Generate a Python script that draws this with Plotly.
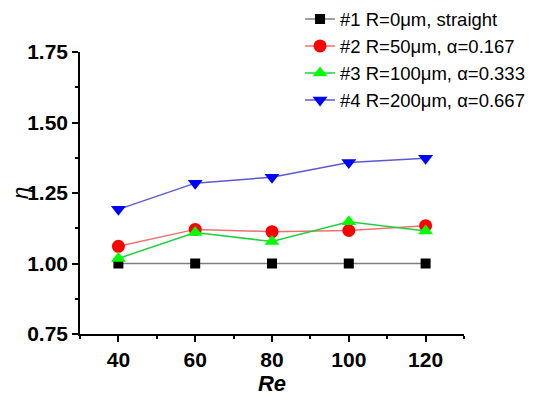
import plotly.graph_objects as go

re_values = [40, 60, 80, 100, 120]
eta_straight = [1.00, 1.00, 1.00, 1.00, 1.00]
eta_r50 = [1.061, 1.121, 1.113, 1.117, 1.134]
eta_r100 = [1.018, 1.110, 1.078, 1.148, 1.115]
eta_r200 = [1.192, 1.285, 1.306, 1.358, 1.373]

series_names = [
    "#1 R=0μm, straight",
    "#2 R=50μm, α=0.167",
    "#3 R=100μm, α=0.333",
    "#4 R=200μm, α=0.667",
]

styles = [
    dict(line="#808080", marker="#000000", symbol="square", size=10),
    dict(line="#f07070", marker="#ff0000", symbol="circle", size=13),
    dict(line="#20d040", marker="#00ff00", symbol="triangle-up", size=13),
    dict(line="#5a5ad0", marker="#0000ff", symbol="triangle-down", size=13),
]

fig = go.Figure()
for name, ys, st in zip(series_names, [eta_straight, eta_r50, eta_r100, eta_r200], styles):
    fig.add_trace(go.Scatter(
        x=re_values, y=ys, name=name, mode="lines+markers",
        line=dict(color=st["line"], width=1.5),
        marker=dict(color=st["marker"], symbol=st["symbol"], size=st["size"],
                    line=dict(width=0)),
    ))

font_family = "Liberation Sans, Arial, sans-serif"

# page body adds an 8px offset, so the figure is sized to fit the window
fig.update_layout(
    width=542, height=390,
    margin=dict(l=72, r=86, t=44, b=64, autoexpand=False),
    plot_bgcolor="white", paper_bgcolor="white",
    showlegend=True,
    legend=dict(
        x=0.573, y=1.183, xanchor="left", yanchor="top",
        font=dict(family=font_family, size=18.5, color="black"),
        bgcolor="rgba(0,0,0,0)", itemwidth=30,
        tracegroupgap=0,
    ),
    font=dict(family=font_family, color="black"),
)

fig.update_xaxes(
    range=[30, 130], tick0=40, dtick=20, automargin=False,
    showgrid=False, zeroline=False,
    showline=True, linecolor="black", linewidth=1.5,
    ticks="outside", ticklen=6, tickwidth=1.5, tickcolor="black",
    tickfont=dict(family=font_family, size=21, color="black", weight="bold"),
    minor=dict(dtick=10, tick0=30, ticks="outside", ticklen=3, tickwidth=1.5, tickcolor="black", showgrid=False),
    title=dict(text="<b><i>Re</i></b>", font=dict(family=font_family, size=22, color="black"), standoff=1),
)

fig.update_yaxes(
    range=[0.75, 1.75], tick0=0.75, dtick=0.25, tickformat=".2f", automargin=False,
    showgrid=False, zeroline=False,
    showline=True, linecolor="black", linewidth=1.5,
    ticks="outside", ticklen=6, tickwidth=1.5, tickcolor="black",
    tickfont=dict(family=font_family, size=21, color="black", weight="bold"),
    minor=dict(dtick=0.125, tick0=0.75, ticks="outside", ticklen=3, tickwidth=1.5, tickcolor="black", showgrid=False),
    title=dict(text="<i>η</i>", font=dict(family=font_family, size=22, color="black"), standoff=13),
)

fig.write_html("out.html")
